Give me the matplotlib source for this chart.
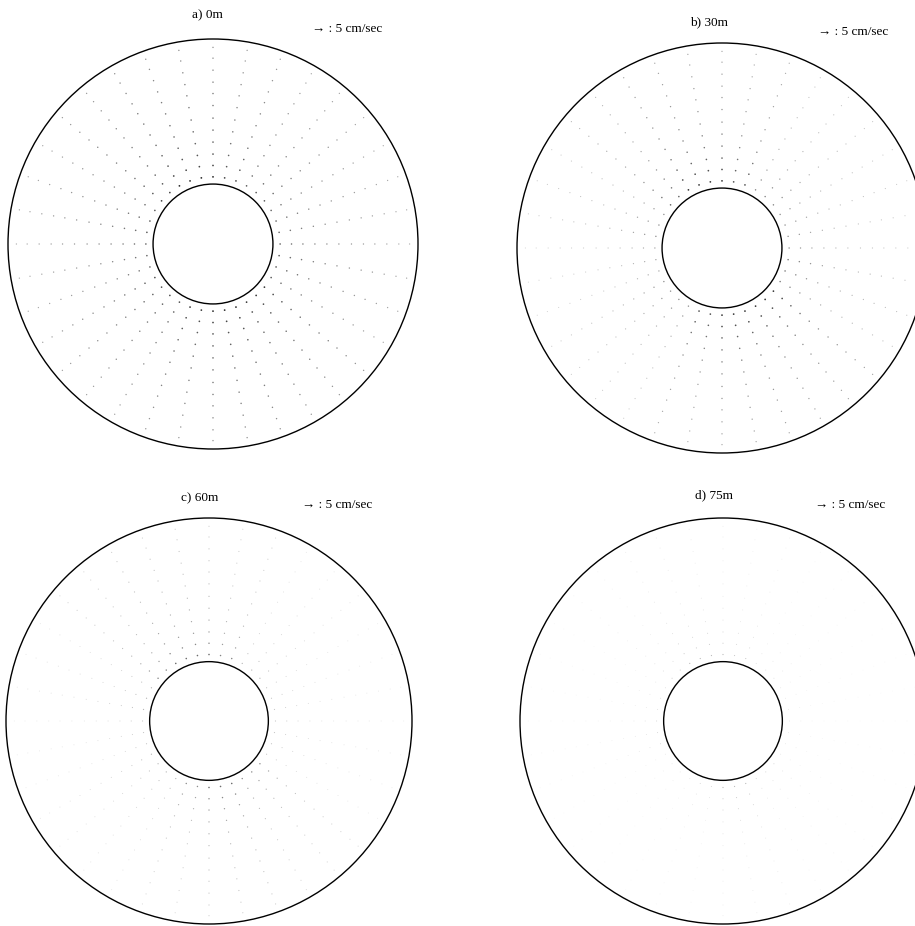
import numpy as np
import matplotlib
matplotlib.use("Agg")
import matplotlib.pyplot as plt
from matplotlib.patches import Circle

plt.rcParams['font.family'] = ['Liberation Serif', 'DejaVu Serif']

# model grid (radius in units of the inner cylinder radius)
r_inner = 1.0
r_outer = 3.42
ring_r = [1.12, 1.31, 1.50, 1.70, 1.90, 2.10, 2.31, 2.51, 2.70, 2.90, 3.10, 3.28]
n_spokes = 36

depths = ["a) 0m", "b) 30m", "c) 60m", "d) 75m"]
scale_label = "→ : 5 cm/sec"

# how strongly the (very short) current vectors print, per ring, inner to outer
ring_shade_a = [0.95, 0.85, 0.78, 0.72, 0.68, 0.65, 0.62, 0.6, 0.58, 0.55, 0.52, 0.5]
ring_shade_b = [0.95, 0.85, 0.75, 0.66, 0.6, 0.55, 0.52, 0.5, 0.48, 0.46, 0.44, 0.42]
ring_shade_c = [0.75, 0.6, 0.5, 0.44, 0.4, 0.36, 0.34, 0.32, 0.3, 0.3, 0.28, 0.26]
ring_shade_d = [0.35, 0.25, 0.2, 0.16, 0.14, 0.12, 0.12, 0.1, 0.1, 0.1, 0.1, 0.1]

# per 30 degree sector, counter-clockwise from east
sector_shade_a = [0.75, 0.8, 0.9, 1.0, 0.9, 0.8, 0.75, 0.85, 0.95, 1.0, 0.95, 0.8]
sector_shade_b = [0.55, 0.6, 0.85, 0.95, 0.75, 0.55, 0.45, 0.55, 0.85, 0.95, 0.95, 0.65]
sector_shade_c = [0.35, 0.45, 0.75, 0.9, 0.75, 0.45, 0.35, 0.45, 0.7, 0.9, 0.7, 0.35]
sector_shade_d = [0.3, 0.4, 0.7, 0.9, 0.6, 0.4, 0.5, 0.3, 0.5, 0.9, 0.5, 0.3]

ring_shades = [ring_shade_a, ring_shade_b, ring_shade_c, ring_shade_d]
sector_shades = [sector_shade_a, sector_shade_b, sector_shade_c, sector_shade_d]

W, H = 915, 926
# panel centres and outer radius in pixels
centres = [(213, 244), (722, 248), (209, 721), (723, 721)]
radius_px = [205, 205, 203, 203]
title_pos = [(207, 15), (709, 22), (200, 498), (714, 495)]
label_pos = [(312, 29), (818, 32), (302, 505), (815, 505)]

fig = plt.figure(figsize=(W / 100, H / 100), dpi=100)

theta = np.deg2rad(np.arange(n_spokes) * 360.0 / n_spokes)
rr, tt = np.meshgrid(ring_r, theta)

for k in range(4):
    cx, cy = centres[k]
    R = radius_px[k]
    ax = fig.add_axes([(cx - R) / W, (H - cy - R) / H, 2 * R / W, 2 * R / H])
    ax.set_xlim(-r_outer, r_outer)
    ax.set_ylim(-r_outer, r_outer)
    ax.set_aspect('equal')
    ax.axis('off')

    ax.add_patch(Circle((0, 0), r_outer, fill=False, ec='black', lw=1.0, clip_on=False))
    ax.add_patch(Circle((0, 0), r_inner, fill=False, ec='black', lw=1.0, clip_on=False))

    sec_idx = (np.rad2deg(tt) // 30).astype(int) % 12
    shade = np.array(ring_shades[k])[None, :] * np.array(sector_shades[k])[sec_idx]
    gray = 1 - 0.85 * shade
    colors = np.stack([gray, gray, gray], axis=-1).reshape(-1, 3)
    ax.scatter((rr * np.cos(tt)).ravel(), (rr * np.sin(tt)).ravel(),
               s=(0.35 + 1.4 * shade).ravel(), c=colors, lw=0, zorder=3)

    tx, ty = title_pos[k]
    fig.text(tx / W, 1 - ty / H, depths[k], ha='center', va='center', fontsize=9.5)
    lx, ly = label_pos[k]
    fig.text(lx / W, 1 - ly / H, scale_label, ha='left', va='center', fontsize=9.5)

fig.savefig("out.png", dpi=100)
